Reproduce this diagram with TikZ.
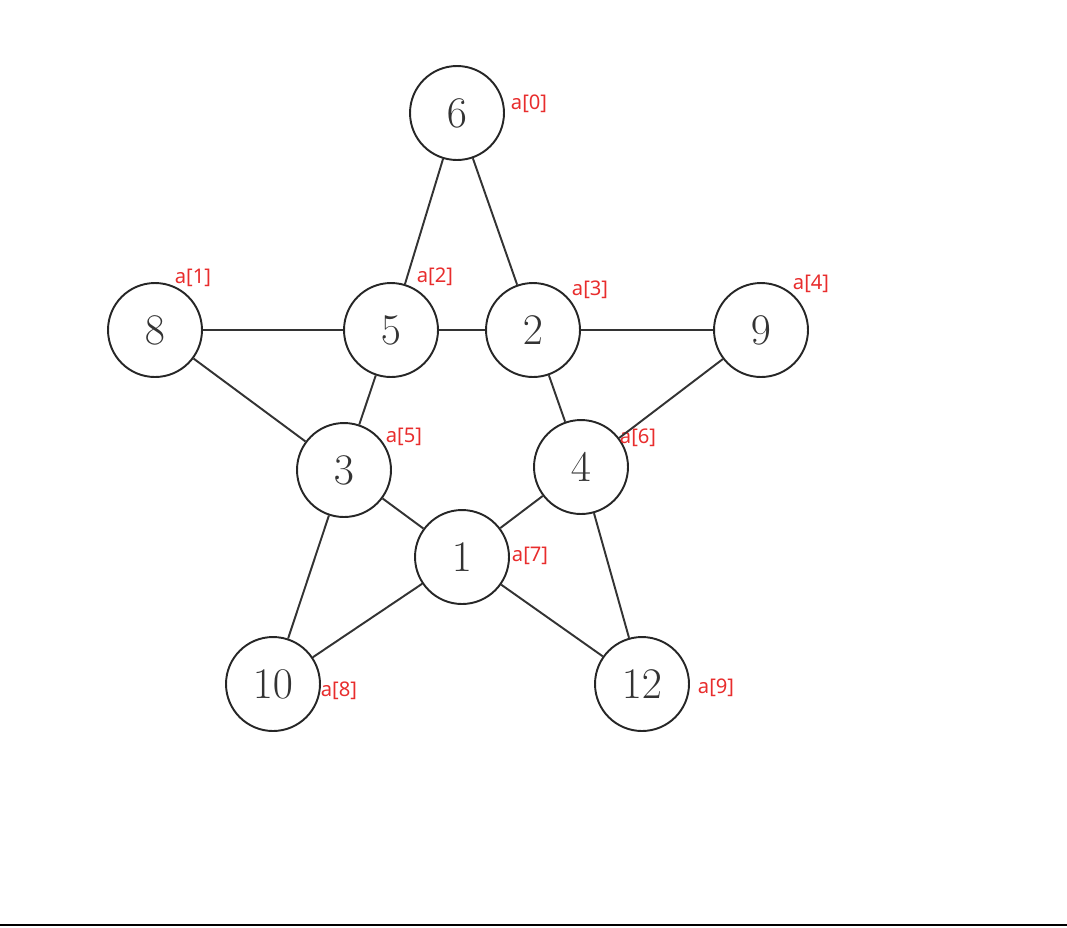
\documentclass[tikz,border=0pt]{standalone}
\usepackage{fontspec}
\newfontfamily\idxfont{Noto Sans}
\usepackage{xcolor}
\usetikzlibrary{positioning}
\definecolor{idxred}{RGB}{232,45,45}
\tikzset{
  vertex/.style = {
      draw=black!85,
      circle,
      line width=1.1pt,
      minimum size=1.88cm,
      inner sep=0pt,
      text=black!80,
      font=\fontsize{29}{32}\selectfont
  },
  edge/.style = {
      draw=black!80,
      line width=1.1pt
  },
  idx/.style = {
      text=idxred,
      inner sep=0pt,
      font=\idxfont\fontsize{11.5}{13}\selectfont
  }
}
\begin{document}
\begin{tikzpicture}[x=0.02cm, y=-0.02cm]
        \useasboundingbox (0,0) rectangle (1067,927);
        % Nodes
        \node[vertex] (n6) at (457,113) {$6$};
        \node[vertex] (n8) at (155,330) {$8$};
        \node[vertex] (n5) at (391,330) {$5$};
        \node[vertex] (n2) at (533,330) {$2$};
        \node[vertex] (n9) at (761,330) {$9$};
        \node[vertex] (n3) at (344,470) {$3$};
        \node[vertex] (n4) at (581,467) {$4$};
        \node[vertex] (n1) at (462,557) {$1$};
        \node[vertex] (n10) at (273,684) {$10$};
        \node[vertex] (n12) at (642,684) {$12$};
        % Index labels
        \node[idx] (a0) at (529,104) {a[0]};
        \node[idx] (a1) at (193,278) {a[1]};
        \node[idx] (a2) at (435,277) {a[2]};
        \node[idx] (a3) at (590,290) {a[3]};
        \node[idx] (a4) at (811,284) {a[4]};
        \node[idx] (a5) at (404,437) {a[5]};
        \node[idx] (a6) at (638,438) {a[6]};
        \node[idx] (a7) at (530,556) {a[7]};
        \node[idx] (a8) at (339,691) {a[8]};
        \node[idx] (a9) at (716,688) {a[9]};
        % Edges
        \path[edge]
        (n6) edge (n5)
        (n6) edge (n2)
        (n8) edge (n5)
        (n5) edge (n2)
        (n2) edge (n9)
        (n8) edge (n3)
        (n5) edge (n3)
        (n2) edge (n4)
        (n9) edge (n4)
        (n3) edge (n1)
        (n4) edge (n1)
        (n3) edge (n10)
        (n1) edge (n10)
        (n1) edge (n12)
        (n4) edge (n12);
        % Bottom rule
        \coordinate (bl) at (0,925);
        \coordinate (br) at (1067,925);
        \draw[line width=1.2pt] (bl) -- (br);
    \end{tikzpicture}
\end{document}
